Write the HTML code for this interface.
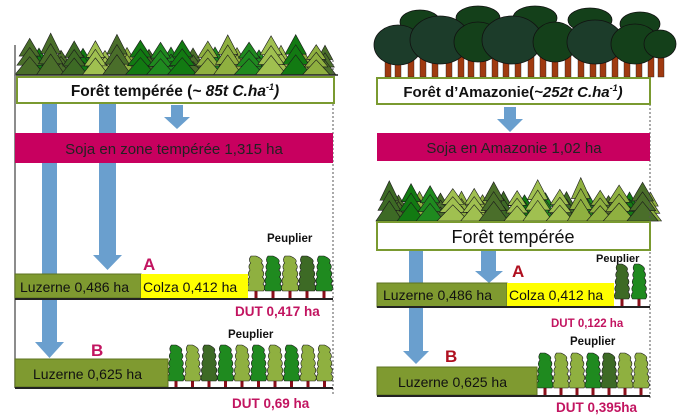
<!DOCTYPE html>
<html><head><meta charset="utf-8"><style>
html,body{margin:0;padding:0;background:#fff;width:700px;height:420px;overflow:hidden}
svg{display:block}
text{font-family:"Liberation Sans",sans-serif}
</style></head><body>
<svg id="s" width="700" height="420" viewBox="0 0 700 420" xmlns="http://www.w3.org/2000/svg">
<g id="trees"></g>
<!-- LEFT PANEL -->
<line x1="15" y1="45" x2="15" y2="388" stroke="#666" stroke-width="1.5"/>
<line x1="333" y1="60" x2="333" y2="395" stroke="#555" stroke-width="1" stroke-dasharray="2,2"/>
<line x1="16" y1="75" x2="338" y2="75" stroke="#222" stroke-width="1.5"/>
<path d="M42 103h15v239h7l-14.5 16l-14.5-16h7z" fill="#6a9fce"/>
<path d="M99 103h17v152h6l-14.5 15l-14.5-15h6z" fill="#6a9fce"/>
<rect x="17" y="77" width="317" height="26" fill="#fff" stroke="#7a9a30" stroke-width="2"/>
<text x="175" y="96" text-anchor="middle" font-size="15.5" font-weight="bold" fill="#111">Forêt tempérée (<tspan font-style="italic">~ 85t C.ha</tspan><tspan font-style="italic" font-size="9" dy="-6">-1</tspan><tspan font-style="italic" dy="6">)</tspan></text>
<path d="M171 105h12v12h7l-13 12l-13-12h7z" fill="#6a9fce"/>
<rect x="15" y="133" width="318" height="30" fill="#c8005f"/>
<text x="174" y="154" text-anchor="middle" font-size="15" fill="#222">Soja en zone tempérée  1,315 ha</text>
<text x="143" y="270" font-size="17" font-weight="bold" fill="#c21460">A</text>
<rect x="15" y="274" width="126" height="24" fill="#7f9a30" stroke="#5d7320" stroke-width="1"/>
<text x="20" y="292" font-size="14" fill="#111">Luzerne 0,486 ha</text>
<rect x="141" y="274" width="107" height="24" fill="#ffff00"/>
<text x="143" y="292" font-size="14" fill="#111">Colza  0,412 ha</text>
<text x="267" y="242" font-size="11.5" font-weight="bold" fill="#111">Peuplier</text>
<text x="235" y="316" font-size="13.5" font-weight="bold" fill="#c21460">DUT 0,417 ha</text>
<text x="228" y="338" font-size="11.5" font-weight="bold" fill="#111">Peuplier</text>
<text x="91" y="356" font-size="17" font-weight="bold" fill="#c21460">B</text>
<rect x="15" y="359" width="153" height="28" fill="#7f9a30" stroke="#5d7320" stroke-width="1"/>
<text x="33" y="379" font-size="14" fill="#111">Luzerne 0,625 ha</text>
<text x="232" y="408" font-size="13.5" font-weight="bold" fill="#c21460">DUT 0,69 ha</text>
<!-- RIGHT PANEL -->
<line x1="650" y1="104" x2="650" y2="398" stroke="#555" stroke-width="1" stroke-dasharray="2,2"/>
<rect x="377" y="78" width="273" height="26" fill="#fff" stroke="#7a9a30" stroke-width="2"/>
<text x="513" y="97" text-anchor="middle" font-size="15" font-weight="bold" fill="#111">Forêt d’Amazonie(<tspan font-style="italic">~252t C.ha</tspan><tspan font-style="italic" font-size="9" dy="-6">-1</tspan><tspan font-style="italic" dy="6">)</tspan></text>
<path d="M504 107h12v12h7l-13 13l-13-13h7z" fill="#6a9fce"/>
<rect x="377" y="133" width="273" height="28" fill="#c8005f"/>
<text x="514" y="153" text-anchor="middle" font-size="15" fill="#222">Soja  en Amazonie  1,02  ha</text>
<path d="M409 251h14v100h6l-13 13l-13-13h6z" fill="#6a9fce"/>
<path d="M481 251h15v20h7l-14 12l-14-12h6z" fill="#6a9fce"/>
<rect x="377" y="222" width="273" height="28" fill="#fff" stroke="#7a9a30" stroke-width="2"/>
<text x="513" y="243" text-anchor="middle" font-size="18" fill="#111">Forêt tempérée</text>
<text x="512" y="277" font-size="17" font-weight="bold" fill="#b01020">A</text>
<rect x="377" y="283" width="130" height="24" fill="#7f9a30" stroke="#5d7320" stroke-width="1"/>
<text x="383" y="300" font-size="14" fill="#111">Luzerne 0,486 ha</text>
<rect x="507" y="283" width="107" height="24" fill="#ffff00"/>
<text x="509" y="300" font-size="14" fill="#111">Colza  0,412 ha</text>
<line x1="377" y1="307" x2="650" y2="307" stroke="#222" stroke-width="2"/>
<text x="596" y="262" font-size="11" font-weight="bold" fill="#111">Peuplier</text>
<text x="551" y="327" font-size="11.5" font-weight="bold" fill="#c21460">DUT  0,122 ha</text>
<text x="570" y="345" font-size="11.5" font-weight="bold" fill="#111">Peuplier</text>
<text x="445" y="362" font-size="17" font-weight="bold" fill="#b01020">B</text>
<rect x="377" y="367" width="160" height="28" fill="#7f9a30" stroke="#5d7320" stroke-width="1"/>
<text x="398" y="387" font-size="14" fill="#111">Luzerne 0,625 ha</text>
<line x1="377" y1="396" x2="650" y2="396" stroke="#222" stroke-width="2"/>
<text x="556" y="412" font-size="13.5" font-weight="bold" fill="#c21460">DUT 0,395ha</text>
<line x1="15" y1="299" x2="333" y2="299" stroke="#222" stroke-width="2"/>
<line x1="15" y1="388" x2="333" y2="388" stroke="#222" stroke-width="2"/>
</svg>
<script>
var g=document.getElementById('trees'),NS='http://www.w3.org/2000/svg';
var cols=['#1f8a1f','#4a6e2a','#8fb040','#127a12','#3d6a25','#a0c050'];
function el(t,a){var e=document.createElementNS(NS,t);for(var k in a)e.setAttribute(k,a[k]);g.appendChild(e);return e;}
function conifer(x,base,h,w,c){
 var n=3,th=h/n;
 for(var i=0;i<n;i++){var top=base-h+i*th*0.75,bot=top+th*1.45;if(i==n-1)bot=base;var ww=w*(0.55+0.45*(i+1)/n);
 el('polygon',{points:(x)+','+top+' '+(x-ww/2)+','+bot+' '+(x+ww/2)+','+bot,fill:c,stroke:'#1a1a1a','stroke-width':0.6});}
}
function row(x0,x1,base,hmin,hmax,step,seed){
 var s=seed;function r(){s=(s*9301+49297)%233280;return s/233280;}
 var xs=[];for(var x=x0;x<=x1;x+=step)xs.push(x);
 xs.forEach(function(x){conifer(x+step/2,base,hmin*0.8+r()*6,22,cols[Math.floor(r()*cols.length)]);});
 xs.forEach(function(x){conifer(x+r()*4,base,hmin+r()*(hmax-hmin),26+r()*6,cols[Math.floor(r()*cols.length)]);});
}
row(28,326,75,30,42,22,7);
row(388,640,221,30,44,21,3);
function poplar(x,base,h,w,c){
 el('rect',{x:x-1.5,y:base-8,width:3,height:8,fill:'#8a0f1a'});
 var top=base-h,b=base-7,d='M'+x+','+top;
 var n=5;for(var i=1;i<=n;i++){var y=top+(b-top)*i/n;var ww=w/2*(0.7+0.3*i/n);d+=' Q'+(x+ww+2)+','+(y-(b-top)/n/2)+' '+(x+ww-1)+','+y;}
 d+=' L'+(x-w/2+1)+','+b;
 for(var i=n-1;i>=0;i--){var y=top+(b-top)*i/n;var ww=w/2*(0.7+0.3*i/n);d+=' Q'+(x-ww-2)+','+(y+(b-top)/n/2)+' '+(x-ww+1)+','+y;}
 d+='Z';el('path',{d:d,fill:c,stroke:'#1a1a1a','stroke-width':0.6});
}
var pc=['#8fb040','#1f8a1f','#8fb040','#3d6a25','#1f8a1f','#8fb040','#1f8a1f','#8fb040','#1f8a1f','#8fb040'];
var i;
for(i=0;i<5;i++)poplar(256+i*17,298,42,17,pc[i]);
for(i=0;i<10;i++)poplar(176+i*16.5,388,43,16,pc[(i+1)%10]);
for(i=0;i<2;i++)poplar(622+i*17,306,42,15,['#3d6a25','#1f8a1f'][i]);
for(i=0;i<7;i++)poplar(545+i*16,395,42,16,['#1f8a1f','#8fb040','#8fb040','#1f8a1f','#3d6a25','#8fb040','#8fb040'][i]);
var tx=[385,395,408,420,432,446,458,468,480,492,503,515,528,540,552,565,578,590,600,612,624,636,648,658];
tx.forEach(function(x,k){el('rect',{x:x,y:50+(k%3)*4,width:6,height:27-(k%3)*4,fill:'#a03a10',stroke:'#222','stroke-width':0.4});});
var cr=[[420,22,20,12,'#14401a'],[478,18,22,12,'#14401a'],[535,18,22,12,'#14401a'],[590,20,22,12,'#14401a'],[640,24,20,12,'#14401a'],
[398,45,24,20,'#1c3c2a'],[440,40,30,24,'#1c3c2a'],[478,42,24,20,'#14401a'],[512,40,30,24,'#1c3c2a'],[555,42,22,20,'#14401a'],[595,42,28,22,'#1c3c2a'],[635,44,24,20,'#14401a'],[660,44,16,14,'#14401a']];
cr.forEach(function(c){el('ellipse',{cx:c[0],cy:c[1],rx:c[2],ry:c[3],fill:c[4],stroke:'#111','stroke-width':0.8});});
</script>
</body></html>
